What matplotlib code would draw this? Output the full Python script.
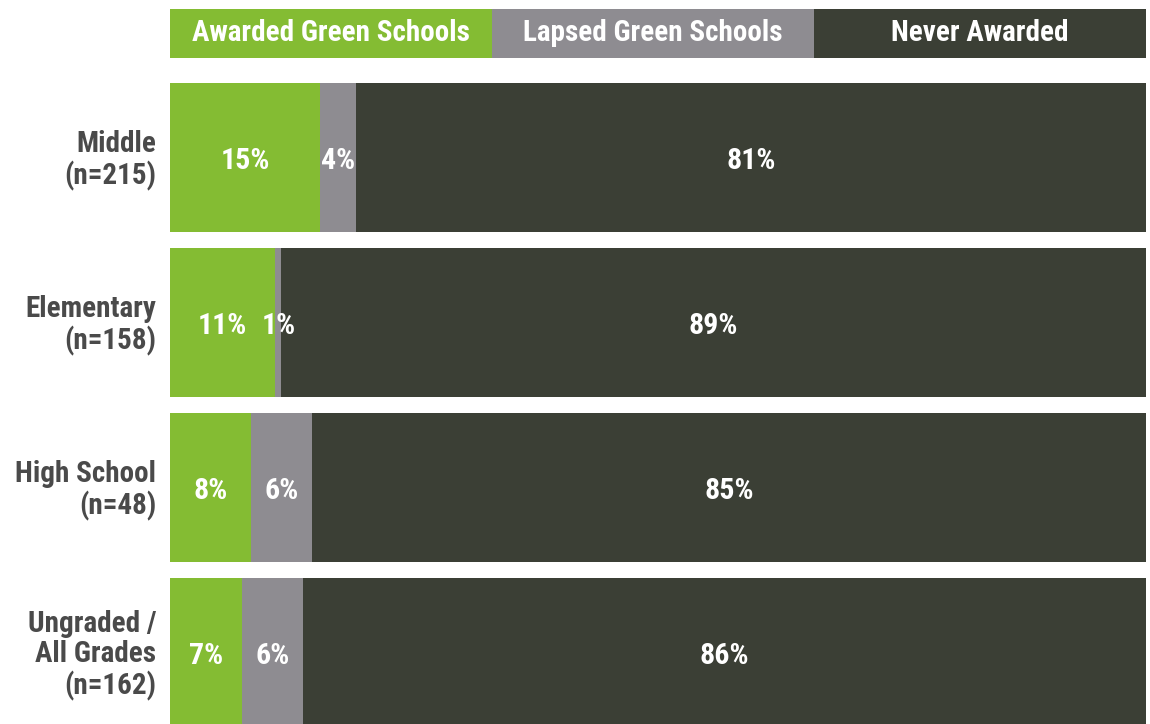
import matplotlib
matplotlib.use("Agg")
import matplotlib.pyplot as plt

categories = ["Middle\n(n=215)", "Elementary\n(n=158)", "High School\n(n=48)", "Ungraded /\nAll Grades\n(n=162)"]
series_names = ["Awarded Green Schools", "Lapsed Green Schools", "Never Awarded"]
awarded = [15.4, 10.8, 8.3, 7.4]
lapsed = [3.7, 0.6, 6.3, 6.2]
never = [80.9, 88.6, 85.4, 86.4]
labels_awarded = ["15%", "11%", "8%", "7%"]
labels_lapsed = ["4%", "1%", "6%", "6%"]
labels_never = ["81%", "89%", "85%", "86%"]

colors = ["#84BC33", "#8E8C91", "#3B3F35"]
text_dark = "#4A4A4A"

plt.rcParams['font.family'] = ["Roboto Condensed", "DejaVu Sans"]

W, H = 1150, 724
fig = plt.figure(figsize=(W / 100, H / 100), dpi=100)

x0, x1 = 170, 1146
ax = fig.add_axes([x0 / W, 0, (x1 - x0) / W, (724 - 83) / H])
pitch = 165.0
height = 0.9
ax.set_ylim(-0.45 + (724 - 83) / pitch, -0.45)
ax.set_xlim(0, 100)

ypos = list(range(len(categories)))
series = [awarded, lapsed, never]
slabels = [labels_awarded, labels_lapsed, labels_never]
left = [0.0] * len(categories)
for vals, col, labs in zip(series, colors, slabels):
    ax.barh(ypos, vals, left=left, height=height, color=col, edgecolor="none")
    for i, (v, l, lab) in enumerate(zip(vals, left, labs)):
        ax.text(l + v / 2, i + 0.02, lab, ha="center", va="center", color="white",
                fontsize=21.5, fontweight="bold")
    left = [a + b for a, b in zip(left, vals)]

for i, c in enumerate(categories):
    ax.text(-1.4, i + 0.02, c, ha="right", va="center", color=text_dark,
            fontsize=21, fontweight="bold", linespacing=1.12)

ax.axis("off")

lax = fig.add_axes([x0 / W, 1 - 58 / H, (x1 - x0) / W, (58 - 9) / H])
box = 976 / 322.0
lax.set_xlim(0, box)
lax.set_ylim(0, 1)
lax.barh([0.5] * 3, [1, 1, box - 2], left=[0, 1, 2], height=1, color=colors, edgecolor="none")
for i, n in enumerate(series_names):
    cx = i + 0.5 if i < 2 else 2 + (box - 2) / 2
    lax.text(cx, 0.52, n, ha="center", va="center", color="white",
             fontsize=21, fontweight="bold")
lax.axis("off")

fig.savefig("out.png", dpi=100)
